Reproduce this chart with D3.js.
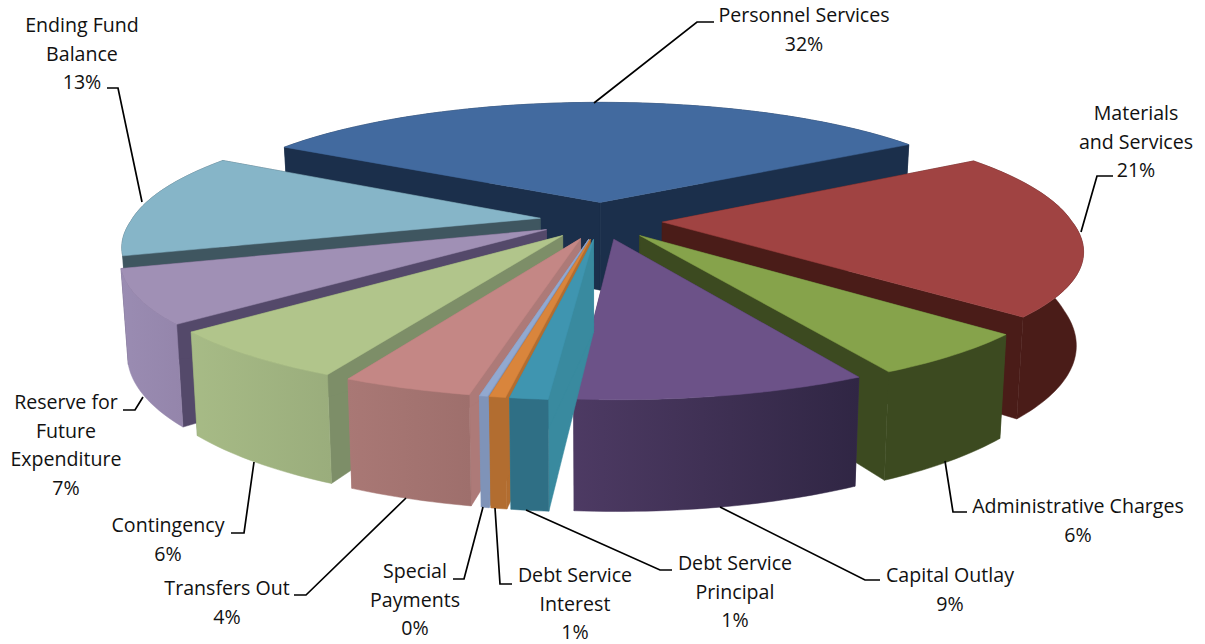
<!DOCTYPE html>
<html>
<head>
<meta charset="utf-8">
<style>
  html, body { margin: 0; padding: 0; background: #fff; }
  svg { display: block; }
  text { font-family: "Open Sans", "Noto Sans", sans-serif; font-size: 19.6px; fill: #111; }
</style>
</head>
<body>
<script src="https://cdn.jsdelivr.net/npm/d3@7"></script>
<script>
// values (percent of total)
const categories = ["Personnel Services", "Materials and Services", "Administrative Charges", "Capital Outlay",
  "Debt Service Principal", "Debt Service Interest", "Special Payments", "Transfers Out", "Contingency",
  "Reserve for Future Expenditure", "Ending Fund Balance"];
const values = [32.4, 20.75, 5.5, 9.1, 1.17, 0.5, 0.25, 4.05, 6.35, 6.7, 13.23];
const percentLabels = [32, 21, 6, 9, 1, 1, 0, 4, 6, 7, 13];

// colours per slice
const topColors = ["#426a9f", "#a04342", "#86a34b", "#6c5288", "#3f95b0", "#d9853c", "#92a9d0", "#c48785", "#b1c58b", "#a090b5", "#86b5c8"];
const sideColors = ["#1b2f4b", "#4a1c18", "#3c4a20", "#3f3055", "#398a9f", "#b26d30", "#7f93b8", "#ad7a78", "#7d8e68", "#54496a", "#3f5660"];
const wallLeft = ["#1b2f4b", "#4a1c18", "#3c4a20", "#4d3a63", "#2f6f85", "#b26d30", "#7f93b8", "#a97875", "#a7bb86", "#9a8cb2", "#3f5660"];
const wallRight = ["#1b2f4b", "#4a1c18", "#3c4a20", "#302644", "#2f6f85", "#b26d30", "#7f93b8", "#9e6f6c", "#9aad7c", "#9485ab", "#3f5660"];

// label text and leader placement
const labelLines = [["Personnel Services"], ["Materials", "and Services"], ["Administrative Charges"], ["Capital Outlay"],
  ["Debt Service", "Principal"], ["Debt Service", "Interest"], ["Special", "Payments"], ["Transfers Out"], ["Contingency"],
  ["Reserve for", "Future", "Expenditure"], ["Ending Fund", "Balance"]];
const labelPos = [[804, 15], [1136, 113], [1078, 506], [950, 575], [735, 563], [575, 575], [415, 571], [227, 588], [168, 525], [66, 402], [82, 25]];
const leaders = [
  [[714, 22], [697, 22], [594, 103]],
  [[1113, 176], [1097, 176], [1081, 232]],
  [[967, 512], [953, 512], [945, 461]],
  [[880, 580], [865, 580], [720, 507]],
  [[672, 570], [660, 570], [526, 510]],
  [[512, 584], [500, 584], [495, 508]],
  [[453, 579], [464, 579], [483, 507]],
  [[294, 595], [306, 595], [406, 498]],
  [[231, 533], [244, 533], [254, 462]],
  [[123, 410], [135, 410], [143, 397]],
  [[107, 88], [118, 88], [142, 202]]
];

const width = 1205, height = 644;

// projection of the tilted pie
const cx = 601, cy = 220.5, rx = 409, ry = 124;
const perspNear = 0.20, perspFar = 0.17, perspY = 0.18, perspZ = 0.17;
const explode = 0.15, depth = 90, shrink = 0.985;

const project = (X, Y) => ({
  x: cx + rx * X / (1 - (Y > 0 ? perspNear : perspFar) * Y),
  y: cy + ry * Y / (1 - perspY * Y),
  w: 1 - perspZ * Y
});
const topPoint = p => [p.x, p.y];
const bottomPoint = p => [cx + (p.x - cx) * shrink, p.y + depth / p.w];

const startDeg = -59.2;
const pie = d3.pie().sort(null).value(d => d)
  .startAngle(startDeg * Math.PI / 180)
  .endAngle((360 + startDeg) * Math.PI / 180);

const line = d3.line();

const slices = pie(values).map((d, i) => {
  const mid = (d.startAngle + d.endAngle) / 2;
  const ox = explode * Math.sin(mid), oy = -explode * Math.cos(mid);
  const apex = project(ox, oy);
  const steps = Math.max(2, Math.ceil((d.endAngle - d.startAngle) / 0.02));
  const rim = d3.range(steps + 1).map(s => {
    const a = d.startAngle + (d.endAngle - d.startAngle) * s / steps;
    return project(ox + Math.sin(a), oy - Math.cos(a));
  });
  return {i, mid, apex, rim, depthKey: -Math.cos(mid)};
}).sort((a, b) => d3.ascending(a.depthKey, b.depthKey));

const svg = d3.select("body").append("svg")
  .attr("width", width)
  .attr("height", height)
  .attr("viewBox", [0, 0, width, height]);

const defs = svg.append("defs");
values.forEach((v, i) => {
  const g = defs.append("linearGradient").attr("id", `wall${i}`);
  g.append("stop").attr("offset", "0%").attr("stop-color", wallLeft[i]);
  g.append("stop").attr("offset", "100%").attr("stop-color", wallRight[i]);
});

const cell = svg.selectAll("g.slice")
  .data(slices)
  .join("g")
  .attr("class", "slice");

cell.each(function(d) {
  const g = d3.select(this);
  // radial walls
  [d.rim[0], d.rim[d.rim.length - 1]].forEach(r => {
    g.append("path")
      .attr("d", line([topPoint(d.apex), topPoint(r), bottomPoint(r), bottomPoint(d.apex)]) + "Z")
      .attr("fill", sideColors[d.i])
      .attr("stroke", sideColors[d.i])
      .attr("stroke-width", 0.5);
  });
  // outer wall
  g.append("path")
    .attr("d", line(d.rim.map(topPoint).concat(d.rim.map(bottomPoint).reverse())) + "Z")
    .attr("fill", `url(#wall${d.i})`)
    .attr("stroke", `url(#wall${d.i})`)
    .attr("stroke-width", 0.5);
  // top face
  g.append("path")
    .attr("d", line([topPoint(d.apex)].concat(d.rim.map(topPoint))) + "Z")
    .attr("fill", topColors[d.i])
    .attr("stroke", topColors[d.i])
    .attr("stroke-width", 0.5);
});

// leader lines
svg.append("g").selectAll("path")
  .data(leaders)
  .join("path")
  .attr("d", d => line(d))
  .attr("fill", "none")
  .attr("stroke", "#000")
  .attr("stroke-width", 1.7);

// labels
const lineHeight = 28.7;
svg.append("g").selectAll("text")
  .data(categories)
  .join("text")
  .attr("text-anchor", "middle")
  .each(function(d, i) {
    const t = d3.select(this);
    labelLines[i].concat(`${percentLabels[i]}%`).forEach((l, j) => {
      t.append("tspan")
        .attr("x", labelPos[i][0])
        .attr("y", labelPos[i][1] + j * lineHeight)
        .attr("dy", "0.36em")
        .text(l);
    });
  });
</script>
</body>
</html>
